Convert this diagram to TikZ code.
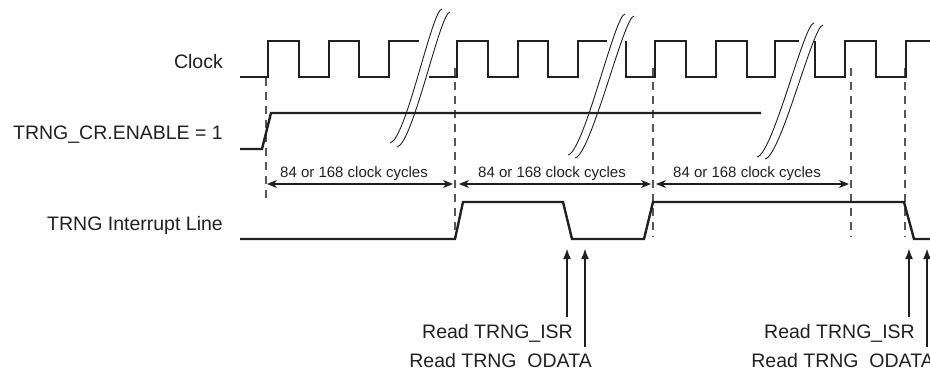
\documentclass[tikz,border=0pt]{standalone}
\usepackage{fontspec}
\setmainfont{Liberation Sans}
\usetikzlibrary{arrows.meta}
\definecolor{ink}{HTML}{231F20}
\definecolor{dashc}{HTML}{555555}
\begin{document}
\begin{tikzpicture}[x=1pt,y=-1pt,
  sig/.style={line width=2.4pt, draw=ink, line join=miter},
  guide/.style={line width=1.4pt, draw=dashc, dash pattern=on 8pt off 6pt},
  brkline/.style={line width=0.9pt, draw=ink},
  span/.style={line width=1.3pt, draw=ink, {Stealth[length=10pt,width=8pt,inset=3pt]}-{Stealth[length=10pt,width=8pt,inset=3pt]}},
  readarr/.style={line width=2.3pt, draw=ink, -{Latex[length=11pt,width=8pt]}},
  lbl/.style={font=\fontsize{19.5}{22}\selectfont, text=ink, inner sep=0pt},
  small/.style={font=\fontsize{15}{17}\selectfont, text=ink, inner sep=0pt}]
\useasboundingbox (0,0) rectangle (930,368);

% signal labels
\node[lbl, anchor=base east] (clk) at (223,68) {Clock};
\node[lbl, anchor=base east] (ena) at (223,139) {TRNG\_CR.ENABLE = 1};
\node[lbl, anchor=base east] (irq) at (223,230) {TRNG Interrupt Line};

% dashed guides
\coordinate (d1t) at (266,78);  \coordinate (d1b) at (266,202);
\coordinate (d2t) at (455,68);  \coordinate (d2b) at (455,237);
\coordinate (d3t) at (653,68);  \coordinate (d3b) at (653,237);
\coordinate (d4t) at (851,68);  \coordinate (d4b) at (851,237);
\coordinate (d5t) at (905,68);  \coordinate (d5b) at (905,237);
\foreach \i in {1,...,5} \draw[guide] (d\i t) -- (d\i b);

% clock
\draw[sig] (240,77) -- (268,77) -- (268,41) -- (299,41) -- (299,77) -- (329,77) -- (329,41) -- (359,41) -- (359,77) -- (389,77) -- (389,41) -- (419,41);
\draw[sig] (429,77) -- (457,77) -- (457,41) -- (488,41) -- (488,77) -- (518,77) -- (518,41) -- (548,41) -- (548,77) -- (578,77) -- (578,41) -- (607,41);
\draw[sig] (626,41) -- (626,77) -- (655,77) -- (655,41) -- (686,41) -- (686,77) -- (716,77) -- (716,41) -- (747,41) -- (747,77) -- (775,77) -- (775,41) -- (799,41);
\draw[sig] (815,41) -- (815,77) -- (845,77) -- (845,41) -- (876,41) -- (876,77) -- (906,77) -- (906,41) -- (930,41);

% enable
\draw[sig] (240,149) -- (262,149) -- (271,113) -- (761,113);

% interrupt line
\draw[sig] (240,239) -- (455,239) -- (463,202) -- (563,202) -- (572,239) -- (644,239) -- (653,202) -- (904,202) -- (914,239) -- (930,239);

% break marks
\draw[brkline] (442,9) .. controls (432,9) and (406,140) .. (390,143);
\draw[brkline] (450,12) .. controls (440,12) and (413,144) .. (397,147);
\draw[brkline] (625,14) .. controls (615,14) and (584,152) .. (568,155);
\draw[brkline] (634,16) .. controls (624,16) and (591,155) .. (575,158);
\draw[brkline] (814,23) .. controls (804,23) and (773,154) .. (757,157);
\draw[brkline] (823,25) .. controls (813,25) and (781,156) .. (765,159);

% spans
\coordinate (s1a) at (267,184); \coordinate (s1b) at (453,184);
\coordinate (s2a) at (459,184); \coordinate (s2b) at (651,184);
\coordinate (s3a) at (656,184); \coordinate (s3b) at (849,184);
\draw[span] (s1a) -- (s1b);
\draw[span] (s2a) -- (s2b);
\draw[span] (s3a) -- (s3b);
\node[small, anchor=base] (t1) at (354,177) {84 or 168 clock cycles};
\node[small, anchor=base] (t2) at (552,177) {84 or 168 clock cycles};
\node[small, anchor=base] (t3) at (747,177) {84 or 168 clock cycles};

% read arrows
\coordinate (r1t) at (567,248); \coordinate (r1b) at (567,317);
\coordinate (r2t) at (585,248); \coordinate (r2b) at (585,347);
\coordinate (r3t) at (909,248); \coordinate (r3b) at (909,317);
\coordinate (r4t) at (927,248); \coordinate (r4b) at (927,347);
\foreach \i in {1,...,4} \draw[readarr] (r\i b) -- (r\i t);

\node[lbl, anchor=base east] (isr1) at (573,338) {Read TRNG\_ISR};
\node[lbl, anchor=base east] (od1) at (592,367) {Read TRNG\_ODATA};
\node[lbl, anchor=base east] (isr2) at (915,338) {Read TRNG\_ISR};
\node[lbl, anchor=base east] (od2) at (934,367) {Read TRNG\_ODATA};
\end{tikzpicture}
\end{document}
